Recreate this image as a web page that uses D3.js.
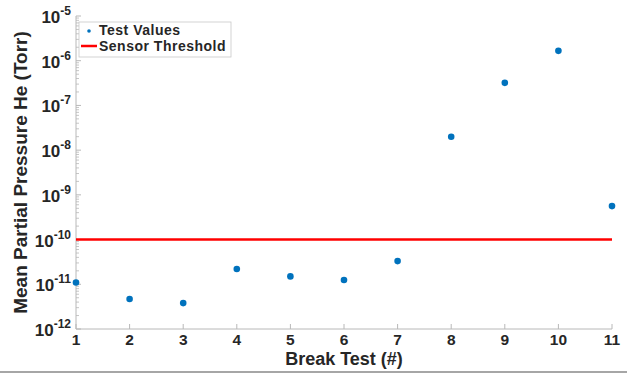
<!DOCTYPE html>
<html>
<head>
<meta charset="utf-8">
<script src="https://cdn.jsdelivr.net/npm/d3@7"></script>
<style>
  body { margin: 0; background: #fff; }
  svg { display: block; font-family: "Liberation Sans", Arial, sans-serif; }
</style>
</head>
<body>
<div id="container"></div>
<script>
"use strict";

const breakTests = [1, 2, 3, 4, 5, 6, 7, 8, 9, 10, 11];
const testValues = [1.1e-11, 4.7e-12, 3.8e-12, 2.2e-11, 1.5e-11, 1.25e-11, 3.3e-11, 2.0e-8, 3.2e-7, 1.66e-6, 5.6e-10];
const sensorThreshold = 1e-10;
const yExponents = [-12, -11, -10, -9, -8, -7, -6, -5];
const legendLabels = ["Test Values", "Sensor Threshold"];

const width = 627;
const height = 373;
const margin = { top: 16, right: 15, bottom: 44, left: 76 };

const svg = d3.select("#container")
  .append("svg")
  .attr("width", width)
  .attr("height", height);

const x = d3.scaleLinear()
  .domain([1, 11])
  .range([margin.left, width - margin.right]);

const y = d3.scaleLog()
  .domain([1e-12, 1e-5])
  .range([height - margin.bottom, margin.top]);

const axisColor = "#b8b8b8";
const textColor = "#262626";

// minor ticks on y
const minor = [];
for (let e = -12; e < -5; e++) {
  for (let m = 2; m <= 9; m++) minor.push(m * Math.pow(10, e));
}
svg.append("g").selectAll("line")
  .data(minor)
  .enter()
  .append("line")
  .attr("x1", margin.left)
  .attr("x2", margin.left + 3)
  .attr("y1", (d) => y(d))
  .attr("y2", (d) => y(d))
  .attr("stroke", axisColor)
  .attr("stroke-width", 0.8);

// major y ticks
svg.append("g").selectAll("line")
  .data(yExponents)
  .enter()
  .append("line")
  .attr("x1", margin.left)
  .attr("x2", margin.left + 5)
  .attr("y1", (d) => y(Math.pow(10, d)))
  .attr("y2", (d) => y(Math.pow(10, d)))
  .attr("stroke", axisColor);

// y tick labels
const yLab = svg.append("g").selectAll("text")
  .data(yExponents)
  .enter()
  .append("text")
  .attr("x", margin.left - 5)
  .attr("y", (d) => y(Math.pow(10, d)) + 7)
  .attr("text-anchor", "end")
  .attr("fill", textColor)
  .style("font-weight", "bold")
  .style("font-size", "17px");
yLab.append("tspan").text("10");
yLab.append("tspan")
  .attr("dy", -8)
  .style("font-size", "12px")
  .text((d) => d);

// x ticks
svg.append("g").selectAll("line")
  .data(breakTests)
  .enter()
  .append("line")
  .attr("x1", (d) => x(d))
  .attr("x2", (d) => x(d))
  .attr("y1", y(1e-12))
  .attr("y2", y(1e-12) - 5)
  .attr("stroke", axisColor);

svg.append("g").selectAll("text")
  .data(breakTests)
  .enter()
  .append("text")
  .attr("x", (d) => x(d))
  .attr("y", y(1e-12) + 16)
  .attr("text-anchor", "middle")
  .attr("fill", textColor)
  .style("font-weight", "bold")
  .style("font-size", "15.5px")
  .text((d) => d);

// axis lines
svg.append("line")
  .attr("x1", margin.left).attr("x2", margin.left)
  .attr("y1", y(1e-5)).attr("y2", y(1e-12))
  .attr("stroke", axisColor);
svg.append("line")
  .attr("x1", margin.left).attr("x2", x(11))
  .attr("y1", y(1e-12)).attr("y2", y(1e-12))
  .attr("stroke", axisColor);

// threshold
svg.append("line")
  .attr("x1", x(1)).attr("x2", x(11))
  .attr("y1", y(sensorThreshold)).attr("y2", y(sensorThreshold))
  .attr("stroke", "#ff0000")
  .attr("stroke-width", 2.5);

// points
svg.append("g").selectAll("circle")
  .data(breakTests)
  .enter()
  .append("circle")
  .attr("cx", (d) => x(d))
  .attr("cy", (d, i) => y(testValues[i]))
  .attr("r", 3.3)
  .attr("fill", "#0072bd");

// axis titles
svg.append("text")
  .attr("x", (x(1) + x(11)) / 2)
  .attr("y", height - 8)
  .attr("text-anchor", "middle")
  .attr("fill", textColor)
  .style("font-weight", "bold")
  .style("font-size", "18px")
  .text("Break Test (#)");

svg.append("text")
  .attr("transform", `translate(27,${(y(1e-5) + y(1e-12)) / 2}) rotate(-90)`)
  .attr("text-anchor", "middle")
  .attr("fill", textColor)
  .style("font-weight", "bold")
  .style("font-size", "19px")
  .text("Mean Partial Pressure He (Torr)");

// legend
const lg = svg.append("g").attr("transform", "translate(79,22)");
lg.append("rect")
  .attr("width", 152)
  .attr("height", 35)
  .attr("fill", "#fff")
  .attr("stroke", "#c8c8c8")
  .attr("stroke-width", 0.8);
lg.append("circle")
  .attr("cx", 10).attr("cy", 9).attr("r", 1.8)
  .attr("fill", "#0072bd");
lg.append("line")
  .attr("x1", 2).attr("x2", 18)
  .attr("y1", 24).attr("y2", 24)
  .attr("stroke", "#ff0000")
  .attr("stroke-width", 2.5);
lg.selectAll("text.lab")
  .data(legendLabels)
  .enter()
  .append("text")
  .attr("class", "lab")
  .attr("x", 20)
  .attr("y", (d, i) => 13 + i * 16)
  .attr("fill", textColor)
  .style("font-weight", "bold")
  .style("font-size", "14px")
  .style("letter-spacing", "0.5px")
  .text((d) => d);

// image border line at bottom
svg.append("line")
  .attr("x1", 0).attr("x2", width)
  .attr("y1", height - 1).attr("y2", height - 1)
  .attr("stroke", "#888")
  .attr("stroke-width", 1.5);
</script>
</body>
</html>
